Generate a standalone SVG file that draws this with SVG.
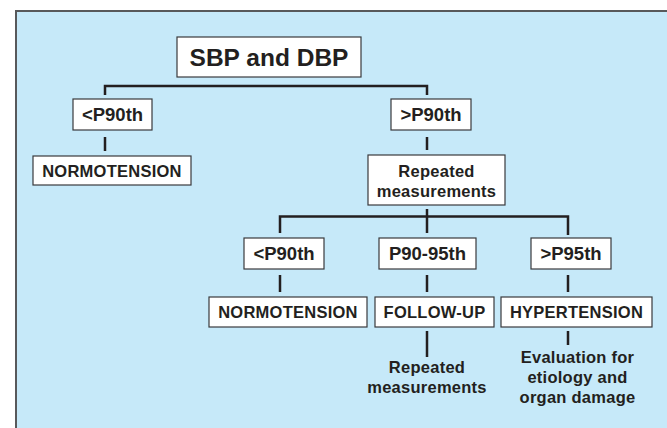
<svg xmlns="http://www.w3.org/2000/svg" width="667" height="428" viewBox="0 0 667 428">
  <style>
    .box { fill: #ffffff; stroke: #3a3a3c; stroke-width: 1.2; }
    .t { font-family: "Liberation Sans", Arial, Helvetica, sans-serif; font-weight: bold; fill: #231f20; text-anchor: middle; }
    .big { font-size: 24.5px; }
    .mid { font-size: 18.5px; }
    .sm { font-size: 16.5px; letter-spacing: 0.25px; }
    .ln { fill: none; stroke: #231f20; stroke-width: 2.5; stroke-linecap: butt; stroke-linejoin: miter; }
  </style>

  <!-- background panel -->
  <rect x="0" y="0" width="667" height="428" fill="#ffffff"/>
  <rect x="16" y="11" width="660" height="430" fill="#c6e9f9" stroke="#58595b" stroke-width="2"/>

  <!-- connectors -->
  <g id="connectors">
    <path class="ln" d="M105,95 V86 H427 V95"/>
    <path class="ln" d="M105,137 V151"/>
    <path class="ln" d="M427,137 V150"/>
    <path class="ln" d="M427,209 V233"/>
    <path class="ln" d="M280,233 V216.5 H568 V235"/>
    <path class="ln" d="M280,275 V292"/>
    <path class="ln" d="M427,275 V292"/>
    <path class="ln" d="M568,275 V292"/>
    <path class="ln" d="M427,331 V357"/>
    <path class="ln" d="M568,331 V345"/>
  </g>

  <g id="root">
    <rect class="box" x="177" y="37" width="184" height="40"/>
    <text class="t big" x="269" y="66">SBP and DBP</text>
  </g>

  <g id="low-1">
    <rect class="box" x="73" y="99" width="79" height="31"/>
    <text class="t mid" x="112.5" y="121">&lt;P90th</text>
  </g>

  <g id="high-1">
    <rect class="box" x="391" y="99" width="80" height="31"/>
    <text class="t mid" x="431" y="121">&gt;P90th</text>
  </g>

  <g id="normo-1">
    <rect class="box" x="33" y="156" width="158" height="29"/>
    <text class="t sm" x="112" y="176.5">NORMOTENSION</text>
  </g>

  <g id="repeat-1">
    <rect class="box" x="368" y="155" width="137" height="50"/>
    <text class="t sm" x="436.5" y="176.5">Repeated</text>
    <text class="t sm" x="436.5" y="196.5">measurements</text>
  </g>

  <g id="low-2">
    <rect class="box" x="244" y="238" width="80" height="31"/>
    <text class="t mid" x="284" y="260">&lt;P90th</text>
  </g>

  <g id="mid-2">
    <rect class="box" x="379" y="238" width="97" height="31"/>
    <text class="t mid" x="427.5" y="260">P90-95th</text>
  </g>

  <g id="high-2">
    <rect class="box" x="531" y="238" width="80" height="31"/>
    <text class="t mid" x="571" y="260">&gt;P95th</text>
  </g>

  <g id="normo-2">
    <rect class="box" x="209" y="297" width="158" height="30"/>
    <text class="t sm" x="288" y="318">NORMOTENSION</text>
  </g>

  <g id="follow-up">
    <rect class="box" x="375" y="297" width="119" height="30"/>
    <text class="t sm" x="434.5" y="318">FOLLOW-UP</text>
  </g>

  <g id="hypertension">
    <rect class="box" x="501" y="297" width="151" height="30"/>
    <text class="t sm" x="576.5" y="318">HYPERTENSION</text>
  </g>

  <g id="repeat-2">
    <text class="t sm" x="427" y="372.5">Repeated</text>
    <text class="t sm" x="427" y="392.5">measurements</text>
  </g>

  <g id="evaluation">
    <text class="t sm" x="577.5" y="362.5">Evaluation for</text>
    <text class="t sm" x="577.5" y="382.5">etiology and</text>
    <text class="t sm" x="577.5" y="402.5">organ damage</text>
  </g>
</svg>
